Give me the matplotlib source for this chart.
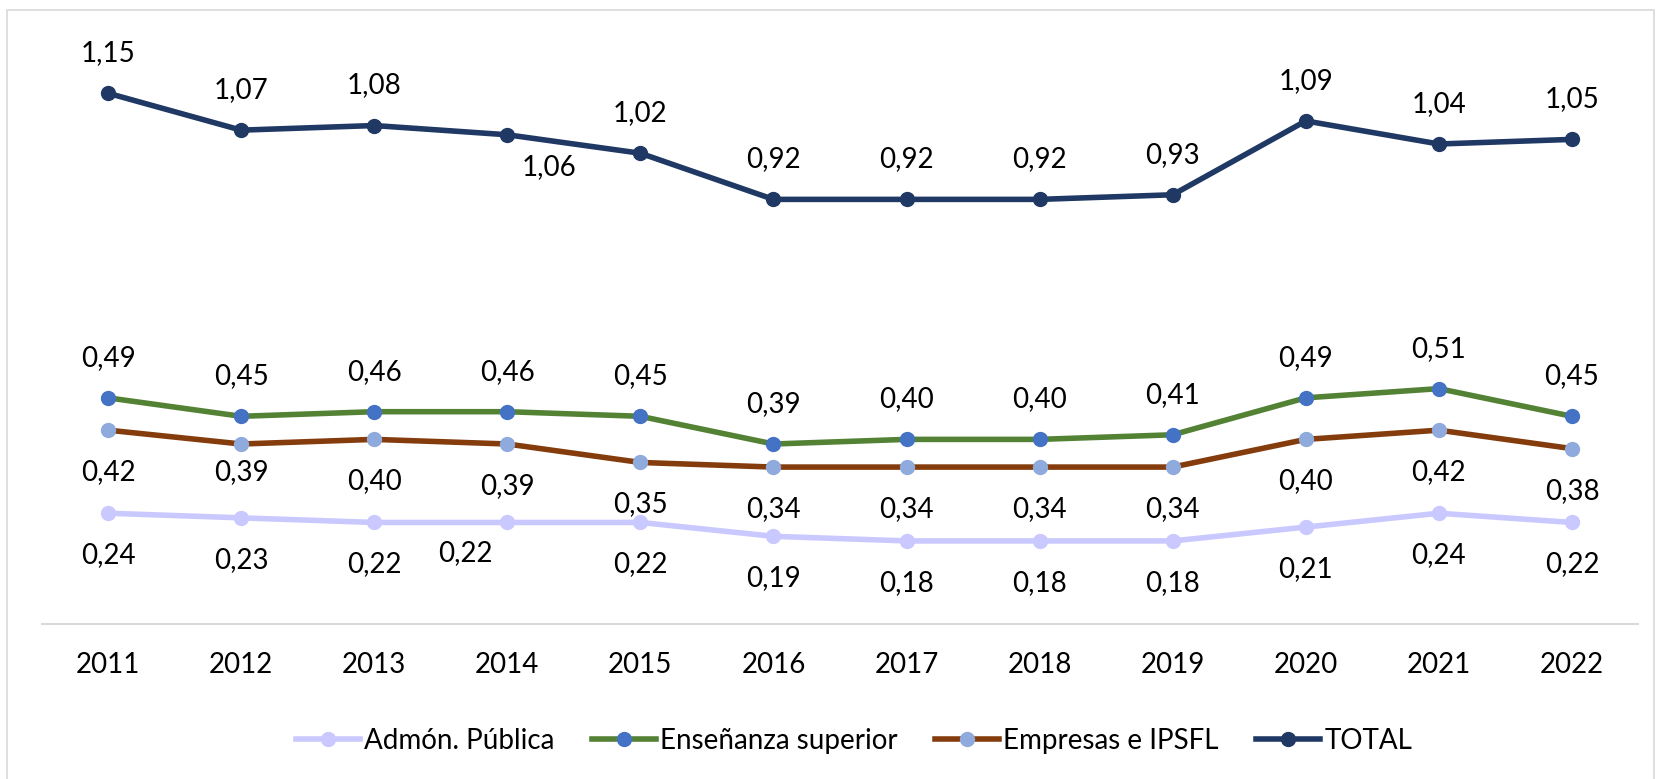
import matplotlib.pyplot as plt
from matplotlib.patches import Rectangle

years = ["2011", "2012", "2013", "2014", "2015", "2016", "2017", "2018", "2019", "2020", "2021", "2022"]
admon = [0.24, 0.23, 0.22, 0.22, 0.22, 0.19, 0.18, 0.18, 0.18, 0.21, 0.24, 0.22]
ensenanza = [0.49, 0.45, 0.46, 0.46, 0.45, 0.39, 0.40, 0.40, 0.41, 0.49, 0.51, 0.45]
empresas = [0.42, 0.39, 0.40, 0.39, 0.35, 0.34, 0.34, 0.34, 0.34, 0.40, 0.42, 0.38]
total = [1.15, 1.07, 1.08, 1.06, 1.02, 0.92, 0.92, 0.92, 0.93, 1.09, 1.04, 1.05]

plt.rcParams['font.family'] = ['Lato', 'DejaVu Sans']
FS = 20

W, H = 1659, 779
fig = plt.figure(figsize=(W / 100, H / 100), dpi=100)
fig.patches.append(Rectangle((7 / W, -0.05), 1647 / W, 1.05 - 10 / H, transform=fig.transFigure,
                             fill=False, edgecolor="#D9D9D9", linewidth=1.2))

ax = fig.add_axes([41.5 / W, (779 - 624) / H, 1597 / W, 600 / H])
x = list(range(len(years)))

# (name, values, line colour, marker colour, label offset in px (dx, dy), special offsets)
series = [
    ("Admón. Pública", admon, "#C9C9FF", "#C9C9FF", (0, -42), {3: (-42, -31)}),
    ("Enseñanza superior", ensenanza, "#548235", "#4472C4", (0, 40), {}),
    ("Empresas e IPSFL", empresas, "#843C0C", "#8FAADC", (0, -42), {1: (0, -28)}),
    ("TOTAL", total, "#1F3864", "#1F3864", (0, 40), {3: (42, -32)}),
]

for name, vals, lc, mc, off, special in series:
    ax.plot(x, vals, color=lc, linewidth=4, marker="o", markersize=10,
            markerfacecolor=mc, markeredgecolor=mc, label=name)
    for i, v in enumerate(vals):
        dx, dy = special.get(i, off)
        ax.annotate(f"{v:.2f}".replace(".", ","), (i, v), xytext=(dx, dy),
                    textcoords="offset pixels", ha="center", va="center",
                    fontsize=FS, color="#000000")

ax.set_xlim(-0.5, len(years) - 0.5)
ax.set_ylim(0, 1.3)
ax.set_xticks(x)
ax.set_xticklabels(years, fontsize=FS)
ax.set_yticks([])
ax.tick_params(axis="x", length=0, pad=20)
for s in ["top", "right", "left"]:
    ax.spines[s].set_visible(False)
ax.spines["bottom"].set_color("#D9D9D9")
ax.spines["bottom"].set_linewidth(1.5)

fig.legend(loc="center", bbox_to_anchor=(854 / W, (779 - 741) / H), ncol=4, frameon=False,
           fontsize=FS, handlelength=2.3, handletextpad=0.15, columnspacing=1.35)

fig.savefig("out.png", dpi=100)
